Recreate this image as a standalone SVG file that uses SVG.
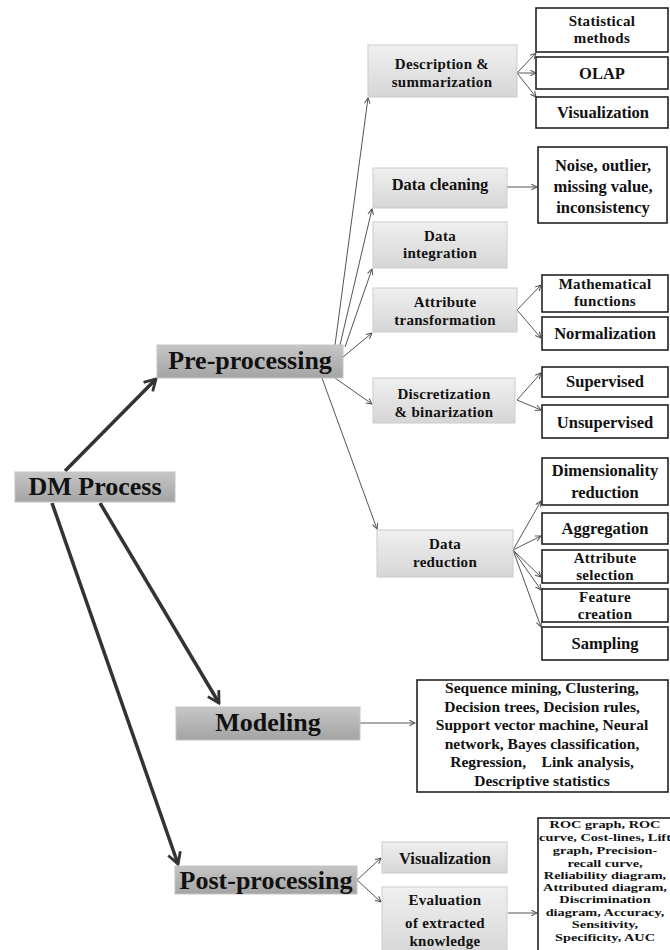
<svg xmlns="http://www.w3.org/2000/svg" width="670" height="950" viewBox="0 0 670 950">
<defs>
<linearGradient id="gDark" x1="0" y1="0" x2="0" y2="1">
<stop offset="0" stop-color="#c6c6c6"/><stop offset="1" stop-color="#a4a4a4"/>
</linearGradient>
<linearGradient id="gLight" x1="0" y1="0" x2="0" y2="1">
<stop offset="0" stop-color="#f0f0f0"/><stop offset="1" stop-color="#d6d6d6"/>
</linearGradient>
<marker id="ah" viewBox="0 0 10 10" refX="9" refY="5" markerWidth="7" markerHeight="7" markerUnits="userSpaceOnUse" orient="auto">
<path d="M1,1 L9,5 L1,9" fill="none" stroke="#555" stroke-width="1.5"/>
</marker>
<marker id="ahT" viewBox="0 0 20 20" refX="18" refY="10" markerWidth="16" markerHeight="16" markerUnits="userSpaceOnUse" orient="auto">
<path d="M4,2 L18,10 L4,18" fill="none" stroke="#333" stroke-width="3.5"/>
</marker>
</defs>
<style>
.dk{fill:url(#gDark);stroke:#c4c4c4;stroke-width:1}
.lt{fill:url(#gLight);stroke:#cccccc;stroke-width:1}
.wb{fill:#fff;stroke:#222;stroke-width:1.6}
text{font-family:"Liberation Serif","Times New Roman",serif;font-weight:bold;fill:#111;text-anchor:middle}
.big{font-size:26px}
.m{font-size:16.5px}
.p{font-size:15px;letter-spacing:0.3px}
.s{font-size:15.5px}
.roc{font-size:11px}
.thin{stroke:#555;stroke-width:1;fill:none;marker-end:url(#ah)}
.thick{stroke:#333;stroke-width:3.5;fill:none;marker-end:url(#ahT)}
</style>
<rect width="670" height="950" fill="#fff"/>

<g id="connectors">
<line class="thick" x1="65" y1="471" x2="156" y2="379"/>
<line class="thick" x1="100" y1="503" x2="219" y2="703"/>
<line class="thick" x1="52" y1="503" x2="178" y2="864"/>
<line class="thin" x1="335" y1="345" x2="368" y2="98"/>
<line class="thin" x1="340" y1="345" x2="372" y2="209"/>
<line class="thin" x1="345" y1="347" x2="372" y2="269"/>
<line class="thin" x1="343" y1="357" x2="372" y2="333"/>
<line class="thin" x1="335" y1="378" x2="372" y2="404"/>
<line class="thin" x1="322" y1="378" x2="377" y2="529"/>
<line class="thin" x1="517" y1="73" x2="536" y2="53"/>
<line class="thin" x1="517" y1="73" x2="536" y2="73"/>
<line class="thin" x1="517" y1="73" x2="536" y2="97"/>
<line class="thin" x1="507" y1="187" x2="537" y2="187"/>
<line class="thin" x1="517" y1="310" x2="541" y2="285"/>
<line class="thin" x1="517" y1="310" x2="541" y2="338"/>
<line class="thin" x1="517" y1="400" x2="541" y2="373"/>
<line class="thin" x1="517" y1="400" x2="541" y2="410"/>
<line class="thin" x1="513" y1="550" x2="541" y2="501"/>
<line class="thin" x1="513" y1="550" x2="541" y2="536"/>
<line class="thin" x1="513" y1="550" x2="541" y2="577"/>
<line class="thin" x1="513" y1="550" x2="541" y2="590"/>
<line class="thin" x1="513" y1="550" x2="541" y2="627"/>
<line class="thin" x1="360" y1="723" x2="415" y2="723"/>
<line class="thin" x1="357" y1="880" x2="381" y2="858"/>
<line class="thin" x1="357" y1="880" x2="381" y2="902"/>
<line class="thin" x1="508" y1="913" x2="537" y2="913"/>
</g>

<g id="dm-process"><rect class="dk" x="15" y="472" width="160" height="30"/><text class="big" x="95" y="495">DM Process</text></g>
<g id="pre-processing"><rect class="dk" x="157" y="345" width="186" height="33"/><text class="big" x="250" y="369">Pre-processing</text></g>
<g id="modeling"><rect class="dk" x="176" y="707" width="184" height="33"/><text class="big" x="268" y="731">Modeling</text></g>
<g id="post-processing"><rect class="dk" x="175" y="866" width="182" height="28"/><text class="big" x="266" y="889">Post-processing</text></g>

<g id="desc"><rect class="lt" x="368" y="45" width="149" height="52"/><text class="p" x="442" y="69">Description &amp;</text><text class="p" x="442" y="87">summarization</text></g>
<g id="cleaning"><rect class="lt" x="373" y="168" width="134" height="40"/><text class="m" x="440" y="190">Data cleaning</text></g>
<g id="integration"><rect class="lt" x="373" y="222" width="134" height="46"/><text class="p" x="440" y="241">Data</text><text class="p" x="440" y="258">integration</text></g>
<g id="attr-trans"><rect class="lt" x="373" y="288" width="144" height="44"/><text class="p" x="445" y="307">Attribute</text><text class="p" x="445" y="325">transformation</text></g>
<g id="discretization"><rect class="lt" x="373" y="378" width="142" height="45"/><text class="p" x="444" y="399">Discretization</text><text class="p" x="444" y="417">&amp; binarization</text></g>
<g id="reduction"><rect class="lt" x="377" y="530" width="136" height="47"/><text class="p" x="445" y="549">Data</text><text class="p" x="445" y="567">reduction</text></g>

<g id="statistical"><rect class="wb" x="536" y="8" width="132" height="44"/><text class="p" x="602" y="26">Statistical</text><text class="p" x="602" y="43">methods</text></g>
<g id="olap"><rect class="wb" x="536" y="57" width="132" height="32"/><text class="m" x="602" y="79">OLAP</text></g>
<g id="visual1"><rect class="wb" x="536" y="97" width="132" height="31"/><text class="m" x="603" y="118">Visualization</text></g>
<g id="noise"><rect class="wb" x="538" y="147" width="129" height="76"/><text class="m" x="603" y="171">Noise, outlier,</text><text class="m" x="603" y="192">missing value,</text><text class="m" x="603" y="213">inconsistency</text></g>
<g id="math"><rect class="wb" x="542" y="275" width="126" height="37"/><text class="p" x="605" y="289">Mathematical</text><text class="p" x="605" y="306">functions</text></g>
<g id="normalization"><rect class="wb" x="542" y="317" width="126" height="33"/><text class="m" x="605" y="339">Normalization</text></g>
<g id="supervised"><rect class="wb" x="542" y="367" width="126" height="30"/><text class="m" x="605" y="387">Supervised</text></g>
<g id="unsupervised"><rect class="wb" x="542" y="405" width="126" height="33"/><text class="m" x="605" y="428">Unsupervised</text></g>
<g id="dimensionality"><rect class="wb" x="542" y="458" width="126" height="47"/><text class="m" x="605" y="476">Dimensionality</text><text class="m" x="605" y="498">reduction</text></g>
<g id="aggregation"><rect class="wb" x="542" y="513" width="126" height="31"/><text class="m" x="605" y="534">Aggregation</text></g>
<g id="attr-sel"><rect class="wb" x="542" y="550" width="126" height="33"/><text class="p" x="605" y="563">Attribute</text><text class="p" x="605" y="580">selection</text></g>
<g id="feature"><rect class="wb" x="542" y="589" width="126" height="33"/><text class="p" x="605" y="602">Feature</text><text class="p" x="605" y="619">creation</text></g>
<g id="sampling"><rect class="wb" x="542" y="627" width="126" height="33"/><text class="m" x="605" y="649">Sampling</text></g>

<g id="modeling-methods"><rect class="wb" x="417" y="680" width="251" height="112"/>
<text class="s" x="542" y="693">Sequence mining, Clustering,</text>
<text class="s" x="542" y="711.5">Decision trees, Decision rules,</text>
<text class="s" x="542" y="730">Support vector machine, Neural</text>
<text class="s" x="542" y="748.5">network, Bayes classification,</text>
<text class="s" x="542" y="767" style="white-space:pre">Regression,    Link analysis,</text>
<text class="s" x="542" y="785.5">Descriptive statistics</text>
</g>

<g id="visual2"><rect class="lt" x="382" y="842" width="125" height="31"/><text class="m" x="445" y="864">Visualization</text></g>
<g id="evaluation"><rect class="lt" x="382" y="887" width="125" height="70"/><text class="p" x="445" y="905">Evaluation</text><text class="p" x="445" y="928">of extracted</text><text class="p" x="445" y="946">knowledge</text></g>

<g id="roc"><rect class="wb" x="538" y="818" width="140" height="140"/>
<g transform="translate(605,0) scale(1.3,1)">
<text class="roc" x="0" y="828">ROC graph, ROC</text>
<text class="roc" x="0" y="841">curve, Cost-lines, Lift</text>
<text class="roc" x="0" y="854">graph, Precision-</text>
<text class="roc" x="0" y="867">recall curve,</text>
<text class="roc" x="0" y="879">Reliability diagram,</text>
<text class="roc" x="0" y="891">Attributed diagram,</text>
<text class="roc" x="0" y="903">Discrimination</text>
<text class="roc" x="0" y="916">diagram, Accuracy,</text>
<text class="roc" x="0" y="928">Sensitivity,</text>
<text class="roc" x="0" y="941">Specificity, AUC</text>
</g>
</g>
</svg>
